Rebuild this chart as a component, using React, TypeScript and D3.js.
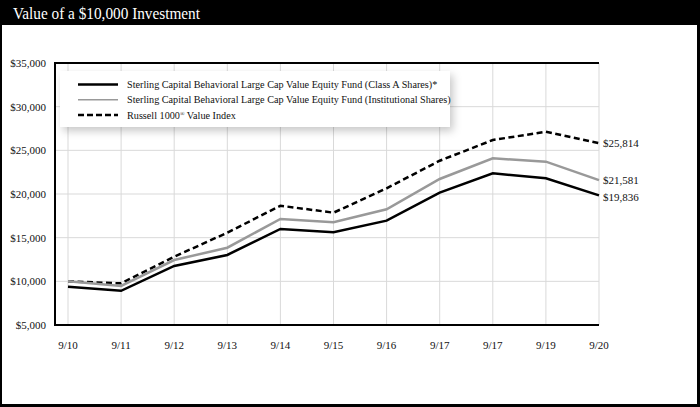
import React from "react";
import * as d3 from "d3";

const categories = ["9/10", "9/11", "9/12", "9/13", "9/14", "9/15", "9/16", "9/17", "9/17", "9/19", "9/20"];
const classA = [9390, 8920, 11760, 13020, 16000, 15620, 16950, 20150, 22370, 21800, 19836];
const institutional = [10000, 9480, 12440, 13850, 17140, 16760, 18250, 21720, 24090, 23700, 21581];
const russell = [10000, 9770, 12820, 15570, 18660, 17860, 20650, 23810, 26180, 27130, 25814];
const yTicks = [5000, 10000, 15000, 20000, 25000, 30000, 35000];
const endLabels = ["$25,814", "$21,581", "$19,836"];
const legendLabels = [
  "Sterling Capital Behavioral Large Cap Value Equity Fund (Class A Shares)*",
  "Sterling Capital Behavioral Large Cap Value Equity Fund (Institutional Shares)",
  "Russell 1000",
];

const W = 700;
const H = 407;
const FONT = "'Liberation Serif', 'DejaVu Serif', serif";

export default function App() {
  const left = 55, right = 599, top = 63, bottom = 325;
  const x = d3.scalePoint<number>().domain(categories.map((_, i) => i)).range([68, right]);
  const y = d3.scaleLinear().domain([5000, 35000]).range([bottom, top]);
  const line = d3.line<number>().x((_, i) => x(i) as number).y((d) => y(d));
  const fmt = (v: number) => "$" + d3.format(",")(v);

  const series = [
    { data: russell, stroke: "#000", dash: "6,3.5", label: endLabels[0], dy: 0 },
    { data: institutional, stroke: "#999", dash: undefined, label: endLabels[1], dy: 0 },
    { data: classA, stroke: "#000", dash: undefined, label: endLabels[2], dy: 2 },
  ];
  const legendStyles = [
    { stroke: "#000", dash: undefined, w: 2.5 },
    { stroke: "#999", dash: undefined, w: 1.5 },
    { stroke: "#000", dash: "6,3", w: 2.5 },
  ];

  return (
    <svg width={W} height={H} style={{ position: "absolute", left: 0, top: 0, display: "block" }} fontFamily={FONT}>
      <defs>
        <filter id="sh" x="-10%" y="-30%" width="130%" height="180%">
          <feDropShadow dx="3" dy="4" stdDeviation="4" floodColor="#000" floodOpacity="0.22" />
        </filter>
      </defs>
      <rect x={0} y={0} width={W} height={H} fill="#000" />
      <rect x={2} y={25} width={W - 5} height={H - 28} fill="#fff" />
      <text x={13} y={19} fill="#fff" fontSize={16.5} textLength={187} lengthAdjust="spacingAndGlyphs">
        Value of a $10,000 Investment
      </text>

      {/* grid */}
      {yTicks.map((t) => (
        <line key={"gy" + t} x1={left} x2={right} y1={y(t)} y2={y(t)} stroke="#d9d9d9" strokeWidth={1} />
      ))}
      {categories.map((_, i) => (
        <line key={"gx" + i} x1={x(i)} x2={x(i)} y1={top} y2={bottom} stroke="#d9d9d9" strokeWidth={1} />
      ))}

      {/* axes frame */}
      <line x1={left} x2={right} y1={top} y2={top} stroke="#000" strokeWidth={2} />
      <line x1={left} x2={right} y1={bottom} y2={bottom} stroke="#000" strokeWidth={2} />
      <line x1={left} x2={left} y1={top - 1} y2={bottom + 1} stroke="#000" strokeWidth={2} />

      {yTicks.map((t) => (
        <text key={"yl" + t} x={46} y={y(t)} dy="0.35em" textAnchor="end" fontSize={11} fill="#111">
          {fmt(t)}
        </text>
      ))}
      {categories.map((c, i) => (
        <text key={"xl" + i} x={x(i)} y={349} textAnchor="middle" fontSize={11} fill="#111">
          {c}
        </text>
      ))}

      {/* lines */}
      {series.map((s, k) => (
        <g key={"s" + k}>
          <path d={line(s.data) || ""} fill="none" stroke={s.stroke} strokeWidth={2.5} strokeDasharray={s.dash} strokeLinejoin="miter" />
          <text x={603} y={y(s.data[s.data.length - 1]) + s.dy} dy="0.35em" fontSize={11} fill="#111">
            {s.label}
          </text>
        </g>
      ))}

      {/* legend */}
      <rect x={60} y={71} width={390} height={56} fill="#fff" filter="url(#sh)" />
      {legendLabels.map((l, i) => (
        <g key={"lg" + i} transform={`translate(78, ${84.5 + i * 15.3})`}>
          <line x1={0} x2={40} y1={0} y2={0} stroke={legendStyles[i].stroke} strokeWidth={legendStyles[i].w} strokeDasharray={legendStyles[i].dash} />
          <text x={49} y={0} dy="0.35em" fontSize={10.2} fill="#111">
            {l}
            {i === 2 ? (
              <>
                <tspan fontSize={6} dy="-0.5em">{"\u00AE"}</tspan>
                <tspan dy="0.3em">{" Value Index"}</tspan>
              </>
            ) : null}
          </text>
        </g>
      ))}
    </svg>
  );
}
